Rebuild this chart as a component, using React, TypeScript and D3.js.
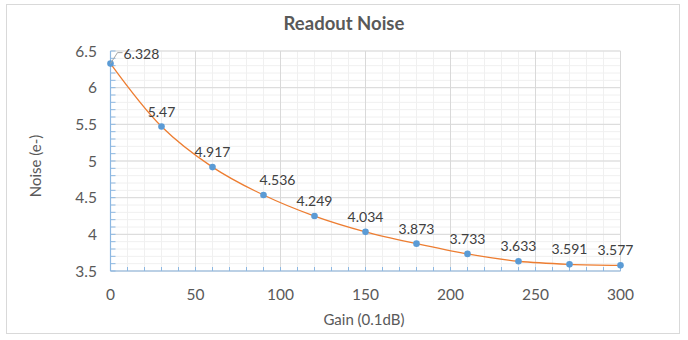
import React from "react";
import * as d3 from "d3";

const gains = [0, 30, 60, 90, 120, 150, 180, 210, 240, 270, 300];
const noise = [6.328, 5.47, 4.917, 4.536, 4.249, 4.034, 3.873, 3.733, 3.633, 3.591, 3.577];
const xTicks = [0, 50, 100, 150, 200, 250, 300];
const yTicks = [3.5, 4, 4.5, 5, 5.5, 6, 6.5];
const title = "Readout Noise";
const xTitle = "Gain (0.1dB)";
const yTitle = "Noise (e-)";

const W = 688, H = 340;
const L = 110.5, R = 620.5, T = 51, B = 271;
const FONT = "Lato, 'Open Sans', sans-serif";

export default function App() {
  const x = d3.scaleLinear().domain([0, 300]).range([L, R]);
  const y = d3.scaleLinear().domain([3.5, 6.5]).range([B, T]);
  const minorX = d3.range(0, 301, 10);
  const minorY = d3.range(35, 66, 1).map((v) => v / 10);
  const pts: [number, number][] = gains.map((g, i) => [x(g), y(noise[i])]);
  const line = d3.line().curve(d3.curveCatmullRom.alpha(0.5))(pts) || "";
  const labelDx = (i: number) => (i === 3 ? 14 : i === gains.length - 1 ? -5 : 0);

  return (
    <svg width={W} height={H} style={{ position: "absolute", left: 0, top: 0 }}>
      <rect x={0} y={0} width={W} height={H} fill="#fff" />
      <rect x={6.5} y={4.5} width={673} height={329} fill="#fff" stroke="#d9d9d9" />
      <text x={344} y={30} textAnchor="middle" fontFamily={FONT} fontWeight="bold" fontSize={18.5} fill="#595959">
        {title}
      </text>
      {/* minor grid */}
      {minorX.map((v) => (
        <line key={"mx" + v} x1={x(v)} x2={x(v)} y1={T} y2={B} stroke="#f0f0f0" />
      ))}
      {minorY.map((v) => (
        <line key={"my" + v} x1={L} x2={R} y1={y(v)} y2={y(v)} stroke="#f0f0f0" />
      ))}
      {/* major grid */}
      {xTicks.map((v) => (
        <line key={"gx" + v} x1={x(v)} x2={x(v)} y1={T} y2={B} stroke="#d9d9d9" />
      ))}
      {yTicks.map((v) => (
        <line key={"gy" + v} x1={L} x2={R} y1={y(v)} y2={y(v)} stroke="#d9d9d9" />
      ))}
      {/* axes */}
      <line x1={L} x2={L} y1={T} y2={B} stroke="#8db8e2" strokeWidth={1.2} />
      <line x1={L} x2={R} y1={B} y2={B} stroke="#8db8e2" strokeWidth={1.2} />
      {minorY.map((v) => (
        <line key={"ty" + v} x1={L} x2={L + 5} y1={y(v)} y2={y(v)} stroke="#8db8e2" />
      ))}
      {minorX.map((v) => (
        <line key={"tx" + v} x1={x(v)} x2={x(v)} y1={B} y2={B - 4} stroke="#8db8e2" />
      ))}
      {yTicks.map((v) => (
        <text key={"yl" + v} x={97} y={y(v) + 5.5} textAnchor="end" fontFamily={FONT} fontSize={15.5} fill="#595959">
          {v}
        </text>
      ))}
      {xTicks.map((v) => (
        <text key={"xl" + v} x={x(v)} y={300} textAnchor="middle" fontFamily={FONT} fontSize={15.5} fill="#595959">
          {v}
        </text>
      ))}
      <text x={364} y={325} textAnchor="middle" fontFamily={FONT} fontSize={15} fill="#595959">
        {xTitle}
      </text>
      <text transform={`translate(41,166) rotate(-90)`} textAnchor="middle" fontFamily={FONT} fontSize={15} fill="#595959">
        {yTitle}
      </text>
      {/* series */}
      <path d={line} fill="none" stroke="#ed7d31" strokeWidth={1.3} />
      {pts.map(([px, py], i) => (
        <circle key={"p" + i} cx={px} cy={py} r={3.3} fill="#5b9bd5" />
      ))}
      {/* leader line for first label */}
      <polyline
        points={`${pts[0][0]},${pts[0][1]} ${pts[0][0] + 7},${pts[0][1] - 11} ${pts[0][0] + 12},${pts[0][1] - 11}`}
        fill="none"
        stroke="#a6a6a6"
      />
      {pts.map(([px, py], i) => (
        <text
          key={"dl" + i}
          x={i === 0 ? px + 13 : px + labelDx(i)}
          y={i === 0 ? py - 5 : py - 10}
          textAnchor={i === 0 ? "start" : "middle"}
          fontFamily={FONT}
          fontSize={14}
          fill="#404040"
        >
          {noise[i]}
        </text>
      ))}
    </svg>
  );
}
